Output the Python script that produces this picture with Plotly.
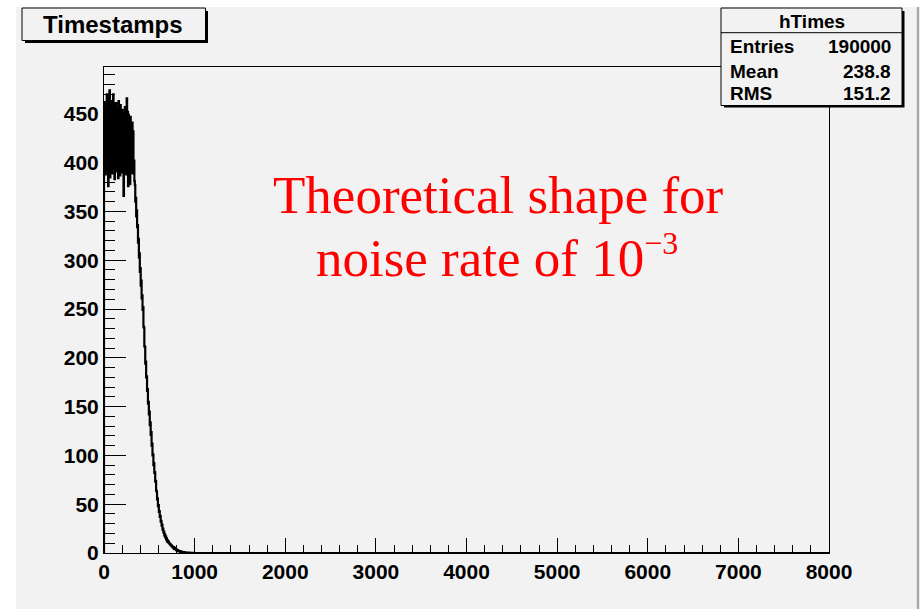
import numpy as np
import plotly.graph_objects as go

# ---------------- data ----------------
bin_width = 5
counts_flat = [462, 395, 448, 388, 455, 401, 470, 392, 441, 376,
               466, 398, 474, 385, 452, 404, 463, 389, 447, 395,
               470, 402, 458, 383, 444, 396, 461, 400, 449, 391,
               456, 384, 463, 405, 445, 387, 459, 399, 450, 390,
               454, 397, 443, 366, 451, 392, 457, 401, 446, 388,
               466, 395, 452, 376, 449, 393, 444, 378, 447, 398,
               437, 392, 441, 389, 432, 394]
counts_tail = [402, 381, 377, 360, 364, 345, 351, 334, 336, 318,
               322, 303, 307, 288, 292, 274, 279, 261, 264, 249,
               252, 232, 231, 212, 211, 194, 196, 180, 181, 166,
               168, 153, 155, 142, 145, 131, 134, 121, 124, 110,
               112, 100, 101, 90, 92, 82, 83, 73, 74, 64,
               63, 55, 56, 48, 49, 42, 43, 37, 38, 32,
               33, 28, 29, 24, 25, 21, 22, 18, 19, 16,
               17, 14, 15, 12, 13, 11, 12, 10, 10, 9,
               9, 8, 8, 7, 7, 6, 6, 5, 6, 4,
               5, 4, 4, 3, 3.5, 3, 3, 2, 2.5, 2,
               2, 1.5, 2, 1, 1.5, 1, 1.2, 1, 1, 0.8,
               0.9, 0.6, 0.7, 0.5, 0.6, 0.4, 0.5, 0.3, 0.4, 0.3,
               0.3, 0.2, 0.3, 0.2, 0.2, 0.1, 0.2, 0.1, 0.1, 0.1,
               0.1, 0, 0.1, 0]
x_min, x_max = 0, 8000
y_max = 498

title_text = "Timestamps"
stats_name = "hTimes"
stats_labels = ["Entries", "Mean", "RMS"]
stats_values = ["190000", "238.8", "151.2"]
note_lines = ["Theoretical shape for",
              "noise rate of 10<sup><span style='font-size:32px'>−3</span></sup>"]

# --------------- build step line ---------------
counts = counts_flat + counts_tail
edges = np.arange(len(counts)) * bin_width
xs = [x_min] + list(edges) + [edges[-1] + bin_width, x_max]
ys = [0] + counts + [0, 0]

W, H = 921, 609
L, R, T, B = 104, 92, 67, 56
PW, PH = W - L - R, H - T - B


def PX(x):
    return (x - L) / PW


def PY(y):
    return (H - B - y) / PH


GRAY = "#f2f2f2"
fig = go.Figure()
fig.add_trace(go.Scatter(x=xs, y=ys, mode="lines", line=dict(color="black", width=2.2, shape="hv"),
                         hoverinfo="skip", showlegend=False))

shapes = []
# canvas
shapes.append(dict(type="rect", xref="paper", yref="paper", x0=PX(16), x1=PX(916.5), y0=PY(7), y1=PY(612),
                   fillcolor=GRAY, line=dict(width=0), layer="below"))
shapes.append(dict(type="line", xref="paper", yref="paper", x0=PX(918), x1=PX(918), y0=PY(7), y1=PY(612),
                   line=dict(color="#a8a8a8", width=2.5)))
# title box with shadow
shapes.append(dict(type="rect", xref="paper", yref="paper", x0=PX(25), x1=PX(208), y0=PY(11), y1=PY(43),
                   fillcolor="black", line=dict(width=0)))
shapes.append(dict(type="rect", xref="paper", yref="paper", x0=PX(22), x1=PX(205.5), y0=PY(8), y1=PY(40.5),
                   fillcolor=GRAY, line=dict(color="black", width=1)))
# stats box with shadow
shapes.append(dict(type="rect", xref="paper", yref="paper", x0=PX(724), x1=PX(904.5), y0=PY(11), y1=PY(107.5),
                   fillcolor="black", line=dict(width=0)))
shapes.append(dict(type="rect", xref="paper", yref="paper", x0=PX(721), x1=PX(902), y0=PY(8), y1=PY(105.5),
                   fillcolor=GRAY, line=dict(color="black", width=1)))
shapes.append(dict(type="line", xref="paper", yref="paper", x0=PX(721), x1=PX(902), y0=PY(32.7), y1=PY(32.7),
                   line=dict(color="black", width=1)))

ann = []
bold = dict(family="Liberation Sans, Arial, sans-serif", color="black", weight="bold")
ann.append(dict(text=title_text, xref="paper", yref="paper", x=PX(113), y=PY(24.5), xanchor="center",
                yanchor="middle", showarrow=False, font=dict(size=24, **bold)))
ann.append(dict(text=stats_name, xref="paper", yref="paper", x=PX(811.5), y=PY(21), xanchor="center",
                yanchor="middle", showarrow=False, font=dict(size=19, **bold)))
row_y = [46.5, 71.5, 93.5]
for lab, val, yy in zip(stats_labels, stats_values, row_y):
    ann.append(dict(text=lab, xref="paper", yref="paper", x=PX(728), y=PY(yy), xanchor="left",
                    yanchor="middle", showarrow=False, font=dict(size=19, **bold)))
    ann.append(dict(text=val, xref="paper", yref="paper", x=PX(893), y=PY(yy), xanchor="right",
                    yanchor="middle", showarrow=False, font=dict(size=19, **bold)))
serif = dict(family="Liberation Serif, Times New Roman, serif", color="red")
ann.append(dict(text=note_lines[0], xref="paper", yref="paper", x=PX(498), y=PY(195), xanchor="center",
                yanchor="middle", showarrow=False, font=dict(size=53, **serif)))
ann.append(dict(text=note_lines[1], xref="paper", yref="paper", x=PX(497), y=PY(256), xanchor="center",
                yanchor="middle", showarrow=False, font=dict(size=53, **serif)))

tickfont = dict(family="Liberation Sans, Arial, sans-serif", size=21, color="black", weight="bold")
fig.update_layout(
    width=W, height=H, margin=dict(l=L, r=R, t=T, b=B, pad=0),
    paper_bgcolor="white", plot_bgcolor=GRAY,
    shapes=shapes, annotations=ann, showlegend=False,
    xaxis=dict(range=[x_min, x_max], dtick=1000, tick0=0, ticks="inside", ticklen=15, tickwidth=1,
               tickcolor="black", showline=True, linecolor="black", linewidth=1, mirror=True,
               showgrid=False, zeroline=False, tickfont=tickfont,
               minor=dict(ticks="inside", ticklen=8, dtick=200, tickwidth=1, tickcolor="black", showgrid=False)),
    yaxis=dict(range=[0, y_max], dtick=50, tick0=0, ticks="inside", ticklen=22, tickwidth=1,
               tickcolor="black", showline=True, linecolor="black", linewidth=1, mirror=True,
               showgrid=False, zeroline=False, tickfont=tickfont,
               minor=dict(ticks="inside", ticklen=11, dtick=10, tickwidth=1, tickcolor="black", showgrid=False)),
)
fig.write_html("out.html")
